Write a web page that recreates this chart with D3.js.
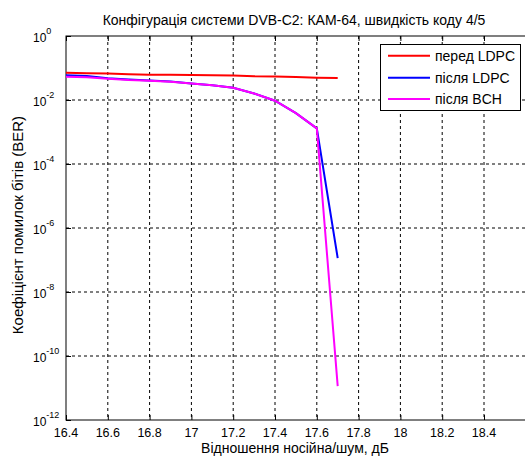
<!DOCTYPE html>
<html>
<head>
<meta charset="utf-8">
<script src="https://cdn.jsdelivr.net/npm/d3@7"></script>
<style>
  body { margin: 0; background: #fff; }
  text { font-family: "Liberation Sans", Arial, sans-serif; fill: #000; }
</style>
</head>
<body>
<svg id="chart" width="525" height="459"></svg>
<script>
// SNR points, dB
var snr = [16.4, 16.5, 16.6, 16.7, 16.8, 16.9, 17.0, 17.1, 17.2, 17.3, 17.4, 17.5, 17.6, 17.7];

// BER
var berBeforeLdpc = [0.071, 0.069, 0.067, 0.064, 0.062, 0.061, 0.060, 0.059, 0.058, 0.055, 0.054, 0.052, 0.050, 0.049];
var berAfterLdpc  = [0.059, 0.056, 0.048, 0.044, 0.041, 0.038, 0.033, 0.029, 0.024, 0.016, 0.0095, 0.0039, 0.0013, 1.15e-7];
var berAfterBch   = [0.053, 0.051, 0.046, 0.042, 0.040, 0.037, 0.033, 0.029, 0.024, 0.016, 0.0095, 0.0039, 0.0013, 1.15e-11];

var seriesNames = ["перед LDPC", "після LDPC", "після BCH"];
var seriesColors = ["#ff0000", "#0000ff", "#ff00ff"];

var xTicks = [16.4, 16.6, 16.8, 17.0, 17.2, 17.4, 17.6, 17.8, 18.0, 18.2, 18.4];
var yExps = [0, -2, -4, -6, -8, -10, -12];

var titleText = "Конфігурація системи DVB-C2: КАМ-64, швидкість коду 4/5";
var xLabel = "Відношення носійна/шум, дБ";
var yLabel = "Коефіцієнт помилок бітів (BER)";

var padL = 66, padT = 36, padB = 420, padR = 525.8;

var svg = d3.select("#chart");

var x = d3.scaleLinear().domain([16.4, 18.6]).range([padL, padR]);
var y = d3.scaleLog().domain([1e-12, 1]).range([padB, padT]);

// grid
var grid = svg.append("g");
xTicks.slice(1).forEach(function(t) {
    grid.append("line")
        .attr("x1", x(t)).attr("x2", x(t))
        .attr("y1", padT).attr("y2", padB)
        .attr("stroke", "#000").attr("stroke-width", 1)
        .attr("stroke-dasharray", "3,3");
});
yExps.slice(1, -1).forEach(function(e) {
    grid.append("line")
        .attr("x1", padL).attr("x2", padR)
        .attr("y1", y(Math.pow(10, e))).attr("y2", y(Math.pow(10, e)))
        .attr("stroke", "#000").attr("stroke-width", 1)
        .attr("stroke-dasharray", "3,3");
});

// axes (inward ticks, MATLAB-ish)
svg.append("g")
    .attr("transform", "translate(0," + padB + ")")
    .call(d3.axisTop(x).tickValues(xTicks).tickSize(5).tickFormat(""))
    .call(g => g.select(".domain").remove());
svg.append("g")
    .attr("transform", "translate(0," + padT + ")")
    .call(d3.axisBottom(x).tickValues(xTicks).tickSize(5).tickFormat(""))
    .call(g => g.select(".domain").remove());
svg.append("g")
    .attr("transform", "translate(" + padL + ",0)")
    .call(d3.axisRight(y).tickValues(yExps.map(e => Math.pow(10, e))).tickSize(5).tickFormat(""))
    .call(g => g.select(".domain").remove());

svg.append("rect")
    .attr("x", padL).attr("y", padT)
    .attr("width", padR - padL).attr("height", padB - padT)
    .attr("fill", "none").attr("stroke", "#000").attr("stroke-width", 1);

// tick labels
svg.selectAll(".xlab").data(xTicks).enter().append("text")
    .attr("x", d => x(d)).attr("y", padB + 17)
    .attr("text-anchor", "middle").attr("font-size", 12.5)
    .text(d => String(+d.toFixed(1)));

var yl = svg.selectAll(".ylab").data(yExps).enter().append("text")
    .attr("x", 33).attr("y", d => y(Math.pow(10, d)) + 5.5)
    .attr("font-size", 12);
yl.append("tspan").text("10");
yl.append("tspan").attr("dy", -8).attr("font-size", 9).text(d => d);

// lines
var allSeries = [berBeforeLdpc, berAfterLdpc, berAfterBch];
var line = d3.line().x((d, i) => x(snr[i])).y(d => y(d));
allSeries.forEach(function(s, k) {
    svg.append("path")
        .datum(s)
        .attr("d", line)
        .attr("fill", "none")
        .attr("stroke", seriesColors[k])
        .attr("stroke-width", 2);
});

// titles
svg.append("text").attr("x", 294).attr("y", 24.5)
    .attr("text-anchor", "middle").attr("font-size", 14).text(titleText);
svg.append("text").attr("x", 295).attr("y", 453)
    .attr("text-anchor", "middle").attr("font-size", 14).text(xLabel);
svg.append("text")
    .attr("transform", "translate(23," + 225 + ") rotate(-90)")
    .attr("text-anchor", "middle").attr("font-size", 15).text(yLabel);

// legend
var lg = svg.append("g");
lg.append("rect")
    .attr("x", 380.5).attr("y", 44.5).attr("width", 140).attr("height", 66)
    .attr("fill", "#fff").attr("stroke", "#000").attr("stroke-width", 1);
var legY = [55.7, 77.7, 99];
seriesNames.forEach(function(n, k) {
    lg.append("line")
        .attr("x1", 388).attr("x2", 430)
        .attr("y1", legY[k]).attr("y2", legY[k])
        .attr("stroke", seriesColors[k]).attr("stroke-width", 2);
    lg.append("text")
        .attr("x", 435).attr("y", legY[k] + 5)
        .attr("font-size", 14).text(n);
});
</script>
</body>
</html>
